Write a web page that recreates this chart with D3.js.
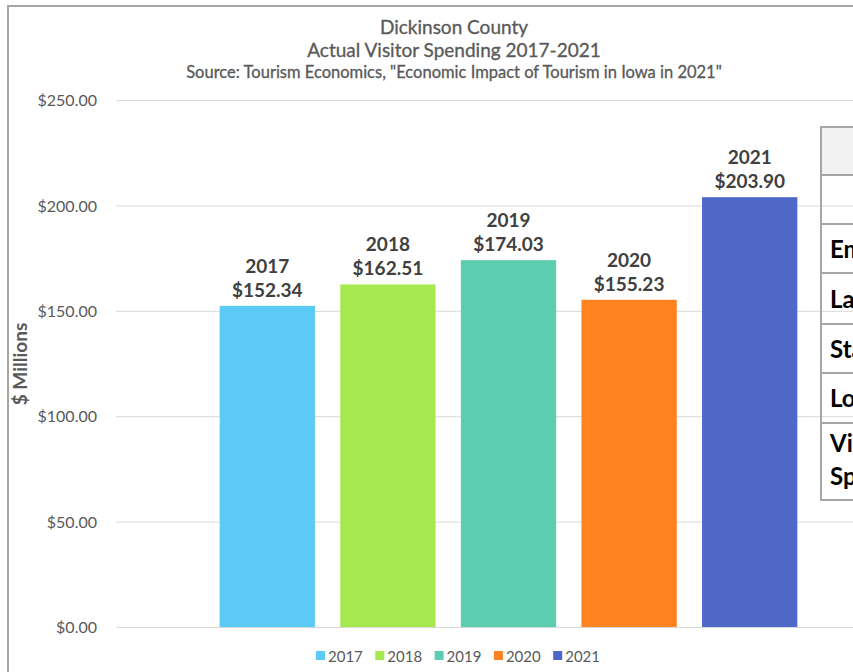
<!DOCTYPE html>
<html>
<head>
<meta charset="utf-8">
<script src="https://cdn.jsdelivr.net/npm/d3@7"></script>
<style>
  html, body { margin: 0; padding: 0; background: #fff; }
  svg { display: block; font-family: Lato, "Open Sans", sans-serif; }
</style>
</head>
<body>
<svg id="chart" width="853" height="672"></svg>
<script>
// Visitor spending, $ millions
const years = ["2017", "2018", "2019", "2020", "2021"];
const spending = [152.34, 162.51, 174.03, 155.23, 203.90];
const colors = ["#5bcbf5", "#a6e850", "#5ccdb0", "#fe8220", "#4f67c6"];
const yTicks = [0, 50, 100, 150, 200, 250];
const titleLines = ["Dickinson County", "Actual Visitor Spending 2017-2021"];
const sourceLine = 'Source: Tourism Economics, "Economic Impact of Tourism in Iowa in 2021"';
const tableRows = ["", "", "Employment", "Labor Income", "State Taxes", "Local Taxes", ["Visitor", "Spending"]];

const svg = d3.select("#chart");
const data = years.map((y, i) => ({ year: y, value: spending[i], color: colors[i] }));

// frame
svg.append("line").attr("x1", 8).attr("x2", 853).attr("y1", 6).attr("y2", 6)
  .attr("stroke", "#a6a6a6").attr("stroke-width", 2);
svg.append("line").attr("x1", 8).attr("x2", 8).attr("y1", 5).attr("y2", 672)
  .attr("stroke", "#a6a6a6").attr("stroke-width", 2);

// titles
svg.append("text").attr("x", 454).attr("y", 34).attr("text-anchor", "middle")
  .attr("font-size", 19).attr("fill", "#595959").attr("stroke", "#595959").attr("stroke-width", 0.3)
  .text(titleLines[0]);
svg.append("text").attr("x", 454).attr("y", 57).attr("text-anchor", "middle")
  .attr("font-size", 19).attr("fill", "#595959").attr("stroke", "#595959").attr("stroke-width", 0.3)
  .text(titleLines[1]);
svg.append("text").attr("x", 454).attr("y", 78).attr("text-anchor", "middle")
  .attr("font-size", 16.5).attr("fill", "#595959").attr("stroke", "#595959").attr("stroke-width", 0.3)
  .text(sourceLine);

// scales
const y = d3.scaleLinear().domain([0, 250]).range([627, 100]);
const x = d3.scaleBand().domain(years).range([207, 810]).paddingInner(0.21).paddingOuter(0.105);

// gridlines
svg.append("g").selectAll("line").data(yTicks).join("line")
  .attr("x1", 116).attr("x2", 853)
  .attr("y1", d => y(d) + 0.5).attr("y2", d => y(d) + 0.5)
  .attr("stroke", "#d9d9d9").attr("stroke-width", 1);

// y axis labels
const yAxis = d3.axisLeft(y).tickValues(yTicks).tickSize(0).tickPadding(0)
  .tickFormat(d => "$" + d3.format(".2f")(d));
const gy = svg.append("g").attr("transform", "translate(97,0)").call(yAxis);
gy.select(".domain").remove();
gy.selectAll("text").attr("font-family", "Lato, sans-serif").attr("font-size", 16)
  .attr("fill", "#595959").attr("dy", "0.35em");

svg.append("text")
  .attr("transform", "translate(27,364) rotate(-90)")
  .attr("text-anchor", "middle").attr("font-size", 19).attr("font-weight", 700)
  .attr("fill", "#595959").text("$ Millions");

// bars
svg.append("g").selectAll("rect").data(data).join("rect")
  .attr("x", d => x(d.year)).attr("width", x.bandwidth())
  .attr("y", d => y(d.value)).attr("height", d => y(0) - y(d.value))
  .attr("fill", d => d.color);

// data labels
const lab = svg.append("g").selectAll("text").data(data).join("text")
  .attr("text-anchor", "middle").attr("font-size", 19).attr("font-weight", 700)
  .attr("fill", "#404040");
lab.append("tspan").attr("x", d => x(d.year) + x.bandwidth() / 2)
  .attr("y", d => y(d.value) - 33).text(d => d.year);
lab.append("tspan").attr("x", d => x(d.year) + x.bandwidth() / 2)
  .attr("y", d => y(d.value) - 9).text(d => "$" + d3.format(".2f")(d.value));

// legend
const leg = svg.append("g").selectAll("g").data(data).join("g")
  .attr("transform", (d, i) => `translate(${316 + i * 59.3},651)`);
leg.append("rect").attr("width", 9).attr("height", 9).attr("fill", d => d.color);
leg.append("text").attr("x", 12).attr("y", 10.5).attr("font-size", 15)
  .attr("fill", "#595959").text(d => d.year);

// side table (extends past the right edge)
const rowEdges = [127, 175, 224, 273, 324, 373, 423, 500];
const tbl = svg.append("g");
tbl.append("rect").attr("x", 821).attr("y", rowEdges[0]).attr("width", 100)
  .attr("height", rowEdges[1] - rowEdges[0]).attr("fill", "#f2f2f2");
tbl.selectAll("line.h").data(rowEdges).join("line").attr("class", "h")
  .attr("x1", 820).attr("x2", 900).attr("y1", d => d).attr("y2", d => d)
  .attr("stroke", "#a6a6a6").attr("stroke-width", 2);
tbl.append("line").attr("x1", 821).attr("x2", 821).attr("y1", rowEdges[0]).attr("y2", rowEdges[rowEdges.length - 1])
  .attr("stroke", "#a6a6a6").attr("stroke-width", 2);
tableRows.forEach((r, i) => {
  if (!r) return;
  const top = rowEdges[i], bot = rowEdges[i + 1];
  const t = tbl.append("text").attr("font-size", 24).attr("font-weight", 700).attr("fill", "#000");
  if (Array.isArray(r)) {
    t.append("tspan").attr("x", 830).attr("y", top + 29).text(r[0]);
    t.append("tspan").attr("x", 830).attr("y", top + 62).text(r[1]);
  } else {
    t.attr("x", 830).attr("y", (top + bot) / 2 + 9).text(r);
  }
});
</script>
</body>
</html>
